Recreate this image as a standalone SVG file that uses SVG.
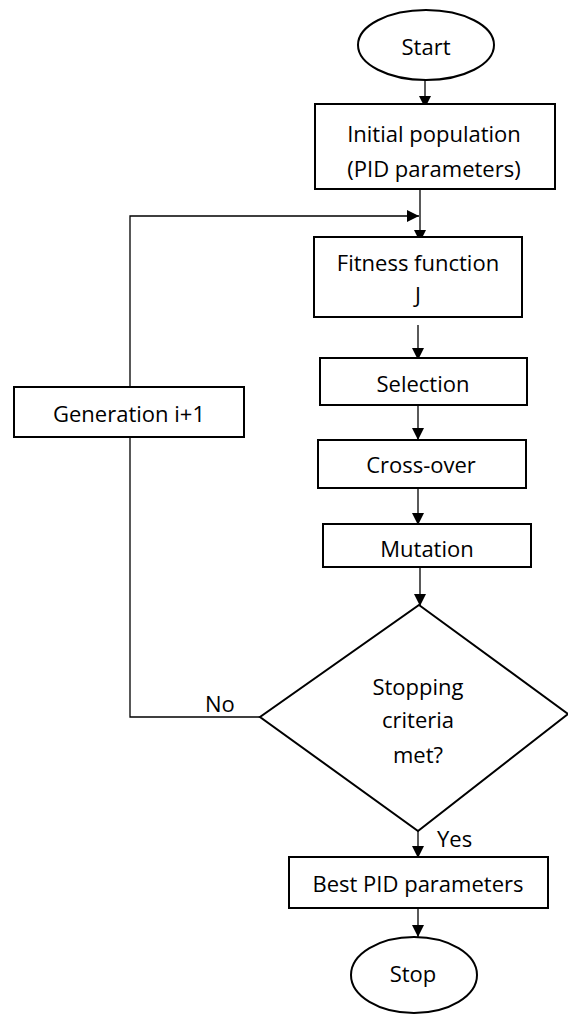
<svg xmlns="http://www.w3.org/2000/svg" width="568" height="1015" viewBox="0 0 568 1015">
<style>
.box{fill:#fff;stroke:#000;stroke-width:2}
.ln{fill:none;stroke:#000;stroke-width:1.3}
text{font-family:"Open Sans","Liberation Sans",sans-serif;font-size:22px;fill:#000;text-anchor:middle}
.lab{text-anchor:start}
</style>
<defs>
<marker id="ah" markerUnits="userSpaceOnUse" markerWidth="12" markerHeight="12" refX="12" refY="6" orient="auto">
<path d="M0,0 L12,6 L0,12 Z" fill="#000"/>
</marker>
</defs>
<rect width="568" height="1015" fill="#fff"/>
<g id="connectors">
<line class="ln" x1="425" y1="80" x2="425" y2="108" marker-end="url(#ah)"/>
<line class="ln" x1="420" y1="190" x2="420" y2="242" marker-end="url(#ah)"/>
<polyline class="ln" points="260,717 130,717 130,216 419,216" marker-end="url(#ah)"/>
<line class="ln" x1="418" y1="325" x2="418" y2="360" marker-end="url(#ah)"/>
<line class="ln" x1="418" y1="405" x2="418" y2="440" marker-end="url(#ah)"/>
<line class="ln" x1="418" y1="488" x2="418" y2="525" marker-end="url(#ah)"/>
<line class="ln" x1="420" y1="567" x2="420" y2="606" marker-end="url(#ah)"/>
<line class="ln" x1="418" y1="831" x2="418" y2="858" marker-end="url(#ah)"/>
<line class="ln" x1="418" y1="908" x2="418" y2="937" marker-end="url(#ah)"/>
<text class="lab" x="205" y="712">No</text>
<text class="lab" x="437" y="847">Yes</text>
</g>
<g id="start">
<ellipse class="box" cx="426" cy="45" rx="68" ry="35"/>
<text x="426" y="55">Start</text>
</g>
<g id="init">
<rect class="box" x="315" y="104" width="240" height="85"/>
<text x="434" y="142">Initial population</text>
<text x="434" y="177">(PID parameters)</text>
</g>
<g id="fitness">
<rect class="box" x="314" y="237" width="208" height="80"/>
<text x="418" y="271">Fitness function</text>
<text x="418" y="303">J</text>
</g>
<g id="selection">
<rect class="box" x="320" y="358" width="207" height="47"/>
<text x="423" y="392">Selection</text>
</g>
<g id="crossover">
<rect class="box" x="318" y="440" width="208" height="48"/>
<text x="421" y="473">Cross-over</text>
</g>
<g id="mutation">
<rect class="box" x="323" y="524" width="208" height="43"/>
<text x="427" y="557">Mutation</text>
</g>
<g id="generation">
<rect class="box" x="14" y="387" width="230" height="50"/>
<text x="129" y="422">Generation i+1</text>
</g>
<g id="decision">
<polygon class="box" points="419,605 568,714 418,831 260,717"/>
<text x="418" y="695">Stopping</text>
<text x="418" y="728">criteria</text>
<text x="418" y="763">met?</text>
</g>
<g id="best">
<rect class="box" x="289" y="857" width="259" height="51"/>
<text x="418" y="892">Best PID parameters</text>
</g>
<g id="stop">
<ellipse class="box" cx="414" cy="975" rx="63" ry="38"/>
<text x="413" y="982">Stop</text>
</g>
</svg>
